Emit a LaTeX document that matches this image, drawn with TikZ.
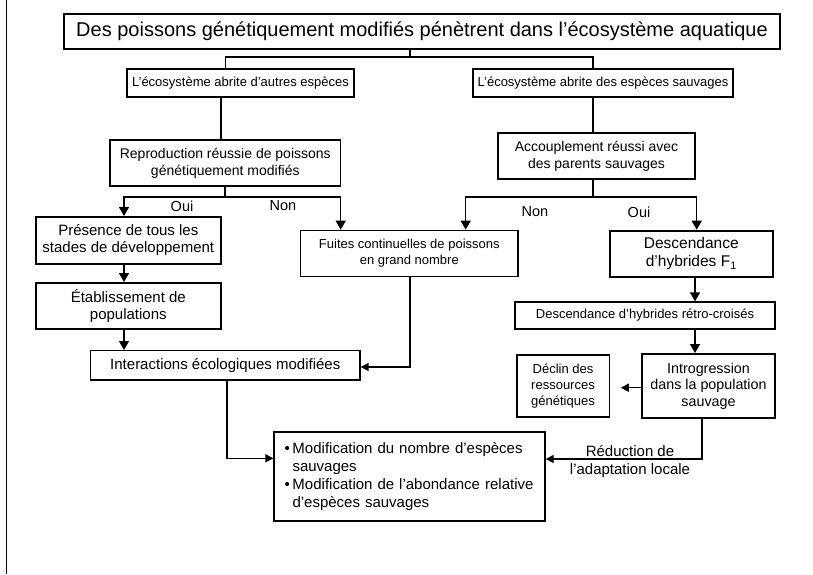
\documentclass[tikz,border=0pt]{standalone}
\usepackage{fontspec}
\setmainfont{Liberation Sans}
\usetikzlibrary{arrows.meta}
\begin{document}
\begin{tikzpicture}[x=1pt,y=-1pt,
  box/.style={draw, line width=1.3pt, inner sep=0pt, align=center},
  thickbox/.style={box, line width=2pt},
  conn/.style={line width=1.3pt},
  darr/.style={conn, -{Triangle[width=10pt,length=9pt]}},
  harr/.style={conn, -{Triangle[width=8pt,length=8pt]}},
  lab/.style={inner sep=0pt, align=center, font=\fontsize{14.5}{17}\selectfont}]
\useasboundingbox (0,0) rectangle (813,574);
\draw[line width=1.5pt] (6.5,0) -- (6.5,574);

\node[box, line width=1.7pt, minimum width=716pt, minimum height=35pt, font=\fontsize{20}{22}\selectfont] (title) at (422,31.5) {Des poissons génétiquement modifiés pénètrent dans l’écosystème aquatique};
\node[box, minimum width=227pt, minimum height=28pt, font=\fontsize{13}{16}\selectfont] (A) at (240.5,83) {L’écosystème abrite d’autres espèces};
\node[box, minimum width=260pt, minimum height=28pt, font=\fontsize{13}{16}\selectfont] (B) at (603,83) {L’écosystème abrite des espèces sauvages};
\node[box, minimum width=230.7pt, minimum height=46pt, font=\fontsize{14}{17.4}\selectfont] (C) at (225.3,163) {Reproduction réussie de poissons\\génétiquement modifiés};
\node[box, minimum width=197pt, minimum height=46pt, font=\fontsize{14}{17.4}\selectfont] (D) at (596.5,156) {Accouplement réussi avec\\des parents sauvages};
\node[thickbox, minimum width=184.7pt, minimum height=46.7pt, font=\fontsize{15}{17.3}\selectfont] (E) at (128.3,240.3) {Présence de tous les\\stades de développement};
\node[box, minimum width=217.3pt, minimum height=46pt, font=\fontsize{13}{16}\selectfont] (F) at (409.3,253.3) {Fuites continuelles de poissons\\en grand nombre};
\node[thickbox, minimum width=184.7pt, minimum height=46pt, font=\fontsize{15}{17.6}\selectfont] (G) at (128.3,306) {Établissement de\\populations};
\node[box, minimum width=269.3pt, minimum height=29.3pt, font=\fontsize{15}{17}\selectfont] (H) at (225.3,365.3) {Interactions écologiques modifiées};
\node[thickbox, minimum width=162.7pt, minimum height=46pt, font=\fontsize{15.5}{17.7}\selectfont] (I) at (691.3,253.7) {Descendance\\d’hybrides F\textsubscript{1}};
\node[box, minimum width=260pt, minimum height=27pt, font=\fontsize{13}{16}\selectfont] (J) at (645,315.5) {Descendance d’hybrides rétro-croisés};
\node[thickbox, minimum width=133pt, minimum height=64pt, font=\fontsize{14.3}{16.3}\selectfont] (K) at (708.5,386) {Introgression\\dans la population\\sauvage};
\node[box, minimum width=92.3pt, minimum height=62pt, font=\fontsize{13}{15.8}\selectfont] (L) at (563,386) {Déclin des\\ressources\\génétiques};
\node[box, minimum width=271pt, minimum height=89pt, text width=250pt, align=left, font=\fontsize{15}{17.7}\selectfont] (M) at (409.5,476.5) {\makebox[8pt][l]{•}Modification du nombre d’espèces\\\hspace*{8pt}sauvages\\\makebox[8pt][l]{•}Modification de l’abondance relative\\\hspace*{8pt}d’espèces sauvages};

% title to A and B
\coordinate (t1) at (410,57);
\coordinate (a1) at (225.7,57);
\coordinate (b1) at (593,57);
\draw[conn] (title.south -| t1) -- (t1);
\draw[conn] (A.north -| a1) -- (a1) -- (b1) -- (B.north -| b1);
\coordinate (a2) at (221,0);
\coordinate (b2) at (593,0);
\draw[conn] (A.south -| a2) -- (C.north -| a2);
\draw[conn] (B.south -| b2) -- (D.north -| b2);

% C to E and F
\coordinate (c1) at (225,197);
\coordinate (cL) at (124,197);
\coordinate (cR) at (340.7,197);
\draw[conn] (C.south -| c1) -- (c1);
\draw[darr] (c1) -- (cL) -- (E.north -| cL);
\draw[darr] (c1) -- (cR) -- (F.north -| cR);
\node[lab] (oui1) at (182,206) {Oui};
\node[lab] (non1) at (283,206) {Non};

% D to F and I
\coordinate (d1) at (593,197);
\coordinate (dL) at (465.7,197);
\coordinate (dR) at (696.7,197);
\draw[conn] (D.south -| d1) -- (d1);
\draw[darr] (d1) -- (dL) -- (F.north -| dL);
\draw[darr] (d1) -- (dR) -- (I.north -| dR);
\node[lab] (non2) at (535,212) {Non};
\node[lab] (oui2) at (639,212) {Oui};

% left column
\coordinate (e1) at (124,0);
\draw[darr] (E.south -| e1) -- (G.north -| e1);
\draw[darr] (G.south -| e1) -- (H.north -| e1);
\coordinate (f1) at (410,367);
\draw[harr] (F.south -| f1) -- (f1) -- (H.east |- f1);

% right column
\coordinate (i1) at (695,0);
\draw[darr] (I.south -| i1) -- (J.north -| i1);
\draw[darr] (J.south -| i1) -- (K.north -| i1);
\coordinate (k1) at (0,387.7);
\draw[harr, shorten >=11pt] (K.west |- k1) -- (L.east |- k1);
\coordinate (k2) at (702,459);
\draw[harr] (K.south -| k2) -- (k2) -- (M.east |- k2);
\node[lab, font=\fontsize{15}{18}\selectfont] (red) at (630,461.5) {Réduction de\\l’adaptation locale};

% H to M
\coordinate (h1) at (227,458.3);
\draw[harr] (H.south -| h1) -- (h1) -- (M.west |- h1);
\end{tikzpicture}
\end{document}
